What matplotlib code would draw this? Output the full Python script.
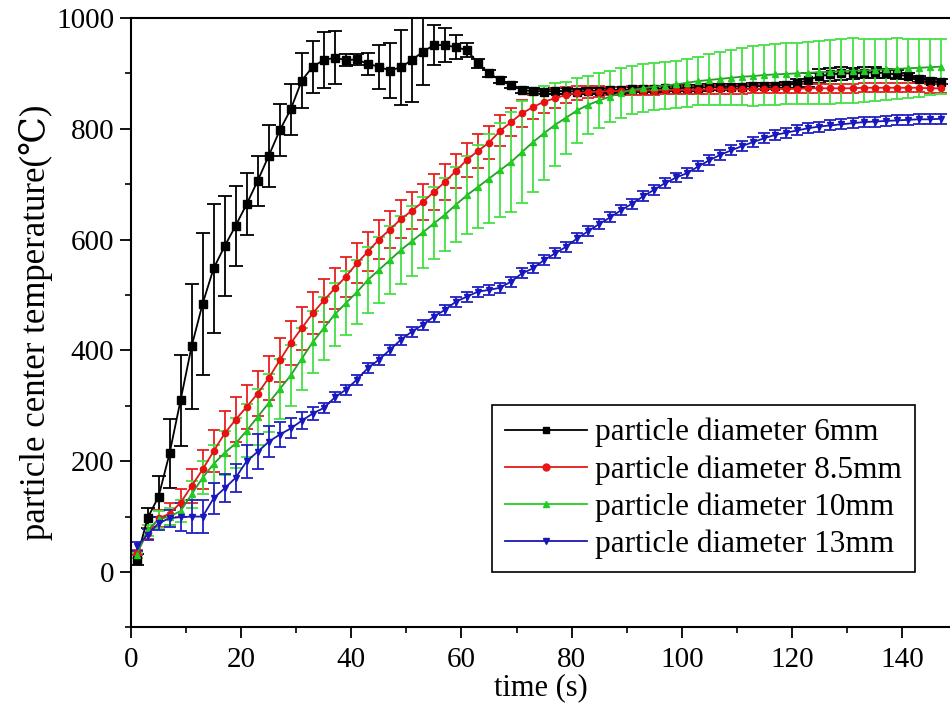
import matplotlib
matplotlib.use("Agg")
import matplotlib.pyplot as plt
from matplotlib.lines import Line2D
from matplotlib.ticker import MultipleLocator

plt.rcParams['font.family'] = ['Liberation Serif', 'DejaVu Serif']
plt.rcParams['mathtext.fontset'] = 'stix'

time = [1, 3, 5, 7, 9, 11, 13, 15, 17, 19, 21, 23, 25, 27, 29, 31, 33, 35, 37, 39,
        41, 43, 45, 47, 49, 51, 53, 55, 57, 59, 61, 63, 65, 67, 69, 71, 73, 75, 77, 79,
        81, 83, 85, 87, 89, 91, 93, 95, 97, 99, 101, 103, 105, 107, 109, 111, 113, 115, 117, 119,
        121, 123, 125, 127, 129, 131, 133, 135, 137, 139, 141, 143, 145, 147]

temp_6mm = [22, 97, 136, 214, 310, 407, 484, 548, 588, 625, 664, 706, 751, 797, 835, 887, 912, 924, 928, 924,
            925, 917, 912, 905, 911, 924, 939, 951, 951, 947, 942, 918, 900, 888, 879, 870, 868, 867, 868, 868,
            867, 868, 869, 870, 870, 871, 872, 872, 873, 873, 874, 874, 875, 875, 876, 876, 877, 877, 878, 879,
            882, 888, 895, 898, 900, 900, 901, 902, 900, 898, 895, 890, 887, 885]
err_6mm = [10, 18, 37, 62, 82, 113, 128, 117, 90, 72, 56, 45, 56, 47, 46, 50, 47, 50, 48, 10,
           10, 20, 40, 50, 68, 75, 60, 36, 30, 22, 12, 8, 6, 5, 5, 5, 5, 5, 5, 5,
           5, 5, 5, 5, 5, 5, 5, 5, 5, 5, 5, 5, 5, 5, 5, 5, 5, 5, 5, 5,
           8, 12, 12, 12, 12, 10, 10, 10, 8, 8, 6, 6, 5, 5]

temp_85mm = [35, 70, 97, 105, 125, 155, 185, 218, 250, 275, 298, 322, 350, 382, 413, 440, 467, 490, 512, 533,
             557, 578, 600, 618, 637, 652, 668, 686, 704, 724, 744, 760, 775, 796, 812, 828, 839, 849, 855, 861,
             864, 866, 867, 868, 868, 869, 869, 869, 870, 870, 870, 870, 871, 871, 871, 871, 872, 872, 872, 872,
             872, 873, 873, 873, 873, 873, 874, 874, 874, 874, 874, 874, 873, 873]
err_85mm = [5, 10, 15, 20, 25, 30, 35, 38, 40, 40, 40, 40, 40, 40, 40, 39, 38, 38, 37, 36,
            36, 35, 35, 34, 34, 33, 33, 32, 32, 31, 31, 30, 30, 28, 26, 24, 22, 20, 18, 15,
            13, 11, 10, 8, 8, 8, 8, 8, 8, 8, 8, 8, 8, 8, 8, 8, 8, 8, 8, 8,
            8, 8, 8, 8, 8, 8, 8, 8, 8, 8, 8, 8, 8, 8]

temp_10mm = [30, 75, 95, 100, 110, 140, 170, 195, 215, 232, 255, 280, 305, 330, 355, 385, 415, 440, 465, 485,
             505, 527, 545, 563, 581, 597, 613, 629, 645, 663, 680, 695, 710, 725, 740, 758, 776, 792, 807, 820,
             833, 843, 851, 858, 865, 870, 873, 876, 878, 880, 883, 886, 888, 890, 892, 894, 895, 897, 898, 899,
             900, 901, 902, 903, 904, 905, 905, 906, 907, 908, 909, 910, 911, 912]
err_10mm = [5, 10, 15, 15, 20, 25, 30, 35, 40, 45, 48, 50, 52, 54, 55, 56, 56, 57, 57, 58,
            58, 59, 60, 61, 62, 63, 64, 65, 66, 68, 70, 75, 80, 85, 90, 92, 90, 85, 75, 65,
            58, 52, 49, 46, 45, 44, 43, 42, 42, 42, 43, 44, 46, 48, 50, 52, 54, 55, 55, 55,
            55, 56, 57, 58, 58, 58, 57, 56, 55, 55, 53, 52, 51, 50]

temp_13mm = [46, 67, 88, 97, 99, 100, 100, 133, 151, 170, 200, 217, 235, 248, 259, 273, 286, 296, 315, 329,
             347, 368, 383, 401, 419, 434, 446, 461, 473, 488, 497, 506, 509, 513, 524, 539, 548, 563, 575, 587,
             602, 615, 628, 640, 653, 665, 678, 690, 702, 712, 720, 732, 743, 753, 761, 769, 776, 783, 789, 793,
             797, 801, 804, 806, 808, 810, 812, 813, 814, 815, 816, 817, 817, 818]
err_13mm = [8, 10, 12, 15, 25, 30, 30, 28, 25, 25, 30, 32, 28, 22, 18, 15, 12, 9, 9, 9,
            9, 9, 9, 9, 9, 9, 9, 9, 9, 9, 9, 9, 9, 9, 9, 9, 9, 9, 9, 9,
            9, 9, 9, 9, 9, 9, 9, 9, 9, 9, 9, 9, 9, 9, 9, 9, 9, 9, 9, 9,
            9, 9, 9, 9, 9, 9, 9, 9, 9, 9, 9, 9, 9, 9]

labels = ['particle diameter 6mm', 'particle diameter 8.5mm',
          'particle diameter 10mm', 'particle diameter 13mm']
x_ticks = [0, 20, 40, 60, 80, 100, 120, 140]
y_ticks = [0, 200, 400, 600, 800, 1000]

fig = plt.figure(figsize=(9.5, 7.17), dpi=100)
ax = fig.add_axes([0.1379, 0.125, 0.8621, 0.85])

series = [
    (temp_6mm, err_6mm, 's', 6, 'black', 'black', 'black', 5.0),
    (temp_85mm, err_85mm, 'o', 4.5, '#e01818', '#e82020', '#e81010', 4.0),
    (temp_10mm, err_10mm, '^', 4.5, '#2a9a2a', '#44e044', '#22cc22', 4.0),
    (temp_13mm, err_13mm, 'v', 5, '#1818b0', '#2020c0', '#1818c0', 4.5),
]
for vals, errs, mk, ms, lc, ec, mc, cs in series:
    ax.errorbar(time, vals, yerr=errs, fmt='-', color=lc, marker=mk, markersize=ms,
                markerfacecolor=mc, markeredgecolor=mc, ecolor=ec, elinewidth=1.3,
                capsize=cs, capthick=1.3, linewidth=1.3)

ax.set_xlim(0, 148.7)
ax.set_ylim(-100, 1000)
ax.set_xticks(x_ticks)
ax.set_yticks(y_ticks)
ax.xaxis.set_minor_locator(MultipleLocator(10))
ax.yaxis.set_minor_locator(MultipleLocator(100))
ax.tick_params(axis='both', which='major', direction='out', length=8, width=1.3,
               labelsize=21, top=False, right=False)
ax.tick_params(axis='both', which='minor', direction='out', length=4, width=1.2,
               top=False, right=False)
ax.tick_params(axis='x', which='major', pad=6)
ax.tick_params(axis='y', which='major', pad=4)
ax.spines['right'].set_visible(False)
for s in ['left', 'bottom', 'top']:
    ax.spines[s].set_linewidth(1.5)

ax.set_xlabel('time (s)', fontsize=22, labelpad=0)
ax.set_ylabel('particle center temperature(℃)', fontsize=25, labelpad=2)

handles = [
    Line2D([], [], color='black', marker='s', markersize=5, linewidth=1.3),
    Line2D([], [], color='#e81818', marker='o', markersize=5, linewidth=1.3),
    Line2D([], [], color='#22cc22', marker='^', markersize=5, linewidth=1.3),
    Line2D([], [], color='#1818b0', marker='v', markersize=5, linewidth=1.3),
]
leg = ax.legend(handles, labels, loc='lower left', bbox_to_anchor=(0.441, 0.091),
                fontsize=22.5, frameon=True, fancybox=False, edgecolor='black',
                framealpha=1, handlelength=2.65, handletextpad=0.25, labelspacing=0.25,
                borderpad=0.4, borderaxespad=0)
leg.get_frame().set_linewidth(1.2)

fig.savefig('out.png', dpi=100)
